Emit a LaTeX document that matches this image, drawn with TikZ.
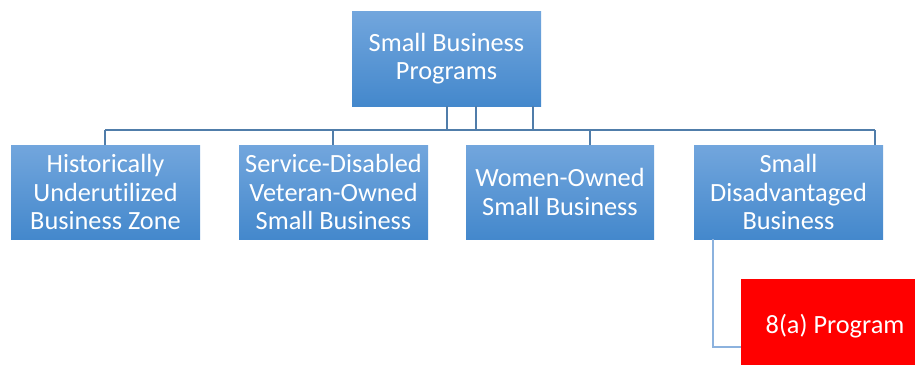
\documentclass[tikz,border=0pt]{standalone}
\usepackage{fontspec}
\setmainfont{Carlito}[Ligatures=NoCommon]
\definecolor{boxtop}{RGB}{114,166,221}
\definecolor{boxbot}{RGB}{68,136,204}
\definecolor{linkblue}{RGB}{80,125,170}
\definecolor{linklight}{RGB}{140,178,222}
\tikzset{
  bluebox/.style={rectangle, inner sep=0pt, top color=boxtop, bottom color=boxbot, draw=none,
    text=white, align=center, font=\fontsize{26.3}{28.7}\selectfont},
  link/.style={draw=linkblue, line width=1.3pt},
  linkl/.style={draw=linklight, line width=1.5pt}
}
\begin{document}
\begin{tikzpicture}[x=1pt,y=-1pt]
\useasboundingbox (0,0) rectangle (915,364);
\clip (0,0) rectangle (915,364);
\node[bluebox, minimum width=189pt, minimum height=95pt] (top) at (446.5,58.5) {Small Business\\Programs};
\node[bluebox, minimum width=189pt, minimum height=94pt] (hub) at (105.5,192) {Historically\\Underutilized\\Business Zone};
\node[bluebox, minimum width=189pt, minimum height=94pt] (sdv) at (333.5,192) {Service-Disabled\\Veteran-Owned\\Small Business};
\node[bluebox, minimum width=188pt, minimum height=94pt] (wos) at (560,192) {Women-Owned\\Small Business};
\node[bluebox, minimum width=189pt, minimum height=94pt] (sdb) at (788.5,192) {Small\\Disadvantaged\\Business};
\node[rectangle, fill=red, inner sep=0pt, minimum width=188pt, minimum height=95pt, text=white,
  font=\fontsize{26.3}{28.7}\selectfont] (eight) at (835,326.5) {8(a) Program};
\coordinate (busL) at (105,130);
\coordinate (busR) at (875,130);
\draw[link] (busL) -- (busR);
\draw[link] (top.south -| 447,0) -- (447,130);
\draw[link] (top.south -| 476,0) -- (476,130);
\draw[link] (top.south -| 533,0) -- (533,130);
\draw[link] (busL) -- (hub.north -| busL);
\draw[link] (333,130) -- (sdv.north -| 333,0);
\draw[link] (590,130) -- (wos.north -| 590,0);
\draw[link] (busR) -- (sdb.north -| busR);
\draw[linkl] (sdb.south -| 713,0) -- (713,347) -- (eight.west |- 0,347);
\end{tikzpicture}
\end{document}
